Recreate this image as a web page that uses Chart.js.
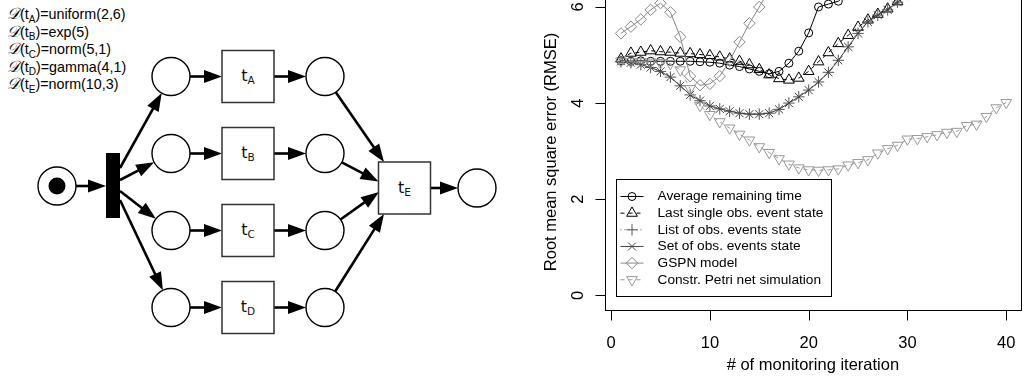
<!DOCTYPE html>
<html>
<head>
<meta charset="utf-8">
<script src="https://cdn.jsdelivr.net/npm/chart.js@4.4.1/dist/chart.umd.min.js"></script>
<style>
    html, body { margin: 0; padding: 0; background: #fff; width: 1028px; height: 380px; overflow: hidden; }
    #net { position: absolute; left: 0; top: 0; }
    #plot { position: absolute; left: 520px; top: -20px; width: 508px; height: 400px; }
</style>
</head>
<body>
<svg id="net" width="520" height="380" xmlns="http://www.w3.org/2000/svg"></svg>
<div id="plot"><canvas id="rmse-chart" width="508" height="400"></canvas></div>
<script>
// monitoring iterations and RMSE of each estimator
const iterations = [1, 2, 3, 4, 5, 6, 7, 8, 9, 10, 11, 12, 13, 14, 15, 16, 17, 18, 19, 20,
    21, 22, 23, 24, 25, 26, 27, 28, 29, 30, 31, 32, 33, 34, 35, 36, 37, 38, 39, 40];

const seriesNames = [
    "Average remaining time",
    "Last single obs. event state",
    "List of obs. events state",
    "Set of obs. events state",
    "GSPN model",
    "Constr. Petri net simulation"
];

const avgRemaining = [4.88, 4.87, 4.88, 4.87, 4.87, 4.87, 4.87, 4.87, 4.86, 4.85,
    4.83, 4.79, 4.76, 4.71, 4.66, 4.61, 4.66, 4.83, 5.08, 5.46,
    6.00, 6.06, 6.12, 6.28, 6.45, 6.62, 6.80, 6.98, 7.15, 7.32,
    7.48, 7.62, 7.75, 7.88, 8.00, 8.10, 8.20, 8.30, 8.40, 8.50];

const lastSingleObs = [4.92, 5.04, 5.06, 5.09, 5.07, 5.06, 5.04, 5.03, 5.01, 4.99,
    4.96, 4.92, 4.87, 4.80, 4.70, 4.59, 4.51, 4.48, 4.52, 4.66,
    4.86, 5.05, 5.24, 5.41, 5.58, 5.73, 5.85, 5.96, 6.11, 6.25,
    6.40, 6.55, 6.70, 6.85, 7.00, 7.15, 7.30, 7.45, 7.60, 7.75];

const listObs = [4.87, 4.84, 4.80, 4.74, 4.66, 4.54, 4.36, 4.17, 4.05, 3.94,
    3.88, 3.83, 3.79, 3.77, 3.77, 3.79, 3.87, 4.00, 4.13, 4.27,
    4.44, 4.64, 4.89, 5.17, 5.45, 5.69, 5.83, 5.94, 6.10, 6.26,
    6.42, 6.58, 6.74, 6.90, 7.06, 7.22, 7.38, 7.54, 7.70, 7.86];

const setObs = [4.87, 4.84, 4.80, 4.74, 4.66, 4.54, 4.36, 4.17, 4.05, 3.94,
    3.88, 3.83, 3.79, 3.77, 3.77, 3.79, 3.87, 4.00, 4.13, 4.27,
    4.44, 4.64, 4.89, 5.17, 5.45, 5.69, 5.83, 5.94, 6.10, 6.26,
    6.42, 6.58, 6.74, 6.90, 7.06, 7.22, 7.38, 7.54, 7.70, 7.86];

const gspnModel = [5.45, 5.59, 5.74, 5.94, 6.08, 5.89, 5.38, 4.56, 4.37, 4.40,
    4.56, 4.88, 5.27, 5.66, 6.00, 6.35, 6.70, 7.05, 7.40, 7.75,
    8.10, 8.40, 8.70, 9.00, 9.25, 9.50, 9.70, 9.90, 10.1, 10.3,
    10.5, 10.6, 10.7, 10.8, 10.9, 11.0, 11.1, 11.2, 11.3, 11.4];

const constrSim = [4.87, 4.86, 4.86, 4.85, 4.84, 4.82, 4.69, 4.30, 3.95, 3.76,
    3.61, 3.48, 3.35, 3.23, 3.09, 2.97, 2.84, 2.73, 2.65, 2.61,
    2.60, 2.61, 2.63, 2.71, 2.76, 2.82, 2.96, 3.05, 3.12, 3.25,
    3.26, 3.30, 3.34, 3.39, 3.41, 3.53, 3.56, 3.72, 3.90, 4.01];

const xTicks = [0, 10, 20, 30, 40];
const yTicks = [0, 2, 4, 6];

// distributions of the transitions in the net
const delayLabels = [
    ["A", "=uniform(2,6)"],
    ["B", "=exp(5)"],
    ["C", "=norm(5,1)"],
    ["D", "=gamma(4,1)"],
    ["E", "=norm(10,3)"]
];

// ---------- Petri net (svg) ----------
const svgNS = "http://www.w3.org/2000/svg";
const net = document.getElementById("net");

function el(tag, attrs, parent) {
    const node = document.createElementNS(svgNS, tag);
    for (const k in attrs) node.setAttribute(k, attrs[k]);
    (parent || net).appendChild(node);
    return node;
}

function arrow(x1, y1, x2, y2) {
    const len = Math.hypot(x2 - x1, y2 - y1);
    const ux = (x2 - x1) / len, uy = (y2 - y1) / len;
    const headLen = 18, headW = 6.5;
    const bx = x2 - ux * headLen, by = y2 - uy * headLen;
    el("line", { x1: x1, y1: y1, x2: bx + ux, y2: by + uy, stroke: "#000", "stroke-width": 2.6 });
    el("polygon", {
        points: `${x2},${y2} ${bx - uy * headW},${by + ux * headW} ${bx + uy * headW},${by - ux * headW}`,
        fill: "#000"
    });
}

const placeR = 19;
const rowY = [76.5, 153.5, 230.5, 307.5];
const names = ["A", "B", "C", "D"];

function place(cx, cy) {
    el("circle", { cx: cx, cy: cy, r: placeR, fill: "#fff", stroke: "#000", "stroke-width": 1.4 });
}

function transition(cx, cy, name) {
    el("rect", { x: cx - 26, y: cy - 26, width: 52, height: 52, fill: "#fff", stroke: "#333", "stroke-width": 1.5 });
    const t = el("text", { x: cx, y: cy + 4.5, "text-anchor": "middle", "font-family": "DejaVu Sans", "font-size": 16, fill: "#111" });
    t.appendChild(document.createTextNode("t"));
    const sub = el("tspan", { "font-size": 10.5, dy: 3 }, t);
    sub.textContent = name;
}

// start place with token and the fork
arrow(57 + placeR, 186, 106, 186);
place(57, 186);
el("circle", { cx: 57, cy: 186, r: 8.5, fill: "#000" });
el("rect", { x: 106, y: 153, width: 14, height: 65, fill: "#000" });

const forkY = [168, 180, 191, 200];
const joinTips = [[384, 162], [378.5, 181.5], [379, 192], [384, 214]];

rowY.forEach((y, i) => {
    // fork -> first place
    const fx = 120, fy = forkY[i];
    const d = Math.hypot(171 - fx, y - fy);
    arrow(fx, fy, 171 - placeR * (171 - fx) / d, y - placeR * (y - fy) / d);
    arrow(171 + placeR, y, 222, y);
    arrow(274, y, 325 - placeR, y);
    // second place -> t_E
    const [tx, ty] = joinTips[i];
    const e = Math.hypot(tx - 325, ty - y);
    arrow(325 + placeR * (tx - 325) / e, y + placeR * (ty - y) / e, tx, ty);
    place(171, y);
    place(325, y);
    transition(248, y, names[i]);
});

arrow(430.5, 188, 477 - placeR, 188);
transition(404.5, 188, "E");
place(477, 188);

// delay distributions, top left
delayLabels.forEach(([name, rest], i) => {
    const t = el("text", { x: 7, y: 19 + i * 17.6, "font-family": "Liberation Sans, Arial", "font-size": 14.3, fill: "#000" });
    const d = el("tspan", { "font-family": "DejaVu Serif, serif", "font-style": "italic", "font-size": 16 }, t);
    d.textContent = "\u{1D49F}";
    const p = el("tspan", {}, t);
    p.textContent = "(t";
    const s = el("tspan", { "font-size": 10, dy: 3.5 }, t);
    s.textContent = name;
    const r = el("tspan", { dy: -3.5 }, t);
    r.textContent = ")" + rest;
});

// ---------- RMSE chart ----------
const seriesValues = [avgRemaining, lastSingleObs, listObs, setObs, gspnModel, constrSim];
const seriesStyles = [
    { color: "#000", dash: [], pointStyle: "circle", radius: 4, rotation: 0 },
    { color: "#000", dash: [4, 4], pointStyle: "triangle", radius: 6.2, rotation: 0 },
    { color: "#555", dash: [1, 3], pointStyle: "cross", radius: 5.7, rotation: 0 },
    { color: "#444", dash: [], pointStyle: "crossRot", radius: 5.7, rotation: 0 },
    { color: "#888", dash: [], pointStyle: "rectRot", radius: 5.7, rotation: 0 },
    { color: "#999", dash: [4, 4], pointStyle: "triangle", radius: 6.2, rotation: 180 }
];

const datasets = seriesValues.map((values, i) => {
    const s = seriesStyles[i];
    return {
        label: seriesNames[i],
        data: values.map((v, j) => ({ x: iterations[j], y: v })),
        borderColor: s.color,
        borderWidth: 1,
        borderDash: s.dash,
        pointStyle: s.pointStyle,
        pointRadius: s.radius,
        pointRotation: s.rotation,
        pointBorderColor: s.color,
        pointBackgroundColor: "rgba(0,0,0,0)",
        pointBorderWidth: 1,
        tension: 0,
        fill: false,
        order: seriesValues.length - i
    };
});

const font = "'Liberation Sans', Arial, sans-serif";

// R-style box, axes, titles and legend
const rStylePlugin = {
    id: "rStyle",
    afterDraw(chart) {
        const { ctx, chartArea: area, scales } = chart;
        const xs = scales.x, ys = scales.y;
        const left = Math.round(area.left) + 0.5;
        const right = Math.round(area.right) + 0.5;
        const top = Math.round(area.top) + 0.5;
        const bottom = Math.round(area.bottom) + 0.5;

        ctx.save();
        ctx.setLineDash([]);
        ctx.strokeStyle = "#000";
        ctx.lineWidth = 1;
        ctx.strokeRect(left, top, right - left, bottom - top);

        ctx.beginPath();
        xTicks.forEach(v => {
            const px = Math.round(xs.getPixelForValue(v)) + 0.5;
            ctx.moveTo(px, bottom);
            ctx.lineTo(px, bottom + 10);
        });
        yTicks.forEach(v => {
            const py = Math.round(ys.getPixelForValue(v)) + 0.5;
            ctx.moveTo(left, py);
            ctx.lineTo(left - 10, py);
        });
        ctx.stroke();

        ctx.fillStyle = "#000";
        ctx.font = "16.5px " + font;
        ctx.textAlign = "center";
        ctx.textBaseline = "alphabetic";
        xTicks.forEach(v => ctx.fillText(String(v), xs.getPixelForValue(v), bottom + 37));
        ctx.fillText("# of monitoring iteration", (area.left + area.right) / 2, bottom + 59);

        yTicks.forEach(v => {
            ctx.save();
            ctx.translate(left - 22.5, ys.getPixelForValue(v));
            ctx.rotate(-Math.PI / 2);
            ctx.fillText(String(v), 0, 0);
            ctx.restore();
        });
        ctx.save();
        ctx.translate(left - 50, (area.top + area.bottom) / 2);
        ctx.rotate(-Math.PI / 2);
        ctx.fillText("Root mean square error (RMSE)", 0, 0);
        ctx.restore();

        // legend
        const lx = Math.round(area.left + 11) + 0.5;
        const lh = 117, lw = 215;
        const ly = Math.round(area.bottom - 14 - lh) + 0.5;
        ctx.fillStyle = "#fff";
        ctx.fillRect(lx, ly, lw, lh);
        ctx.strokeStyle = "#000";
        ctx.strokeRect(lx, ly, lw, lh);

        ctx.font = "13.7px " + font;
        ctx.textAlign = "left";
        ctx.textBaseline = "middle";
        seriesNames.forEach((name, i) => {
            const s = seriesStyles[i];
            const cy = ly + 17 + i * 16.65;
            const sx = lx + 4, ex = lx + 27, mx = (sx + ex) / 2;
            ctx.strokeStyle = s.color;
            ctx.lineWidth = 1;
            ctx.setLineDash(s.dash);
            ctx.beginPath();
            ctx.moveTo(sx, cy);
            ctx.lineTo(ex, cy);
            ctx.stroke();
            ctx.setLineDash([]);
            ctx.fillStyle = "rgba(0,0,0,0)";
            Chart.helpers.drawPoint(ctx, {
                pointStyle: s.pointStyle,
                radius: s.radius,
                rotation: s.rotation,
                borderWidth: 1
            }, mx, cy);
            ctx.fillStyle = "#000";
            ctx.fillText(name, lx + 41, cy);
        });
        ctx.restore();
    }
};

new Chart(document.getElementById("rmse-chart").getContext("2d"), {
    type: "line",
    data: { datasets: datasets },
    options: {
        responsive: false,
        animation: false,
        layout: { padding: { left: 85, right: 1, top: 14, bottom: 70 } },
        scales: {
            x: { type: "linear", min: -0.62, max: 41.48, display: false },
            y: { type: "linear", min: -0.306, max: 6.27, display: false }
        },
        plugins: {
            legend: { display: false },
            tooltip: { enabled: false }
        }
    },
    plugins: [rStylePlugin]
});
</script>
</body>
</html>
